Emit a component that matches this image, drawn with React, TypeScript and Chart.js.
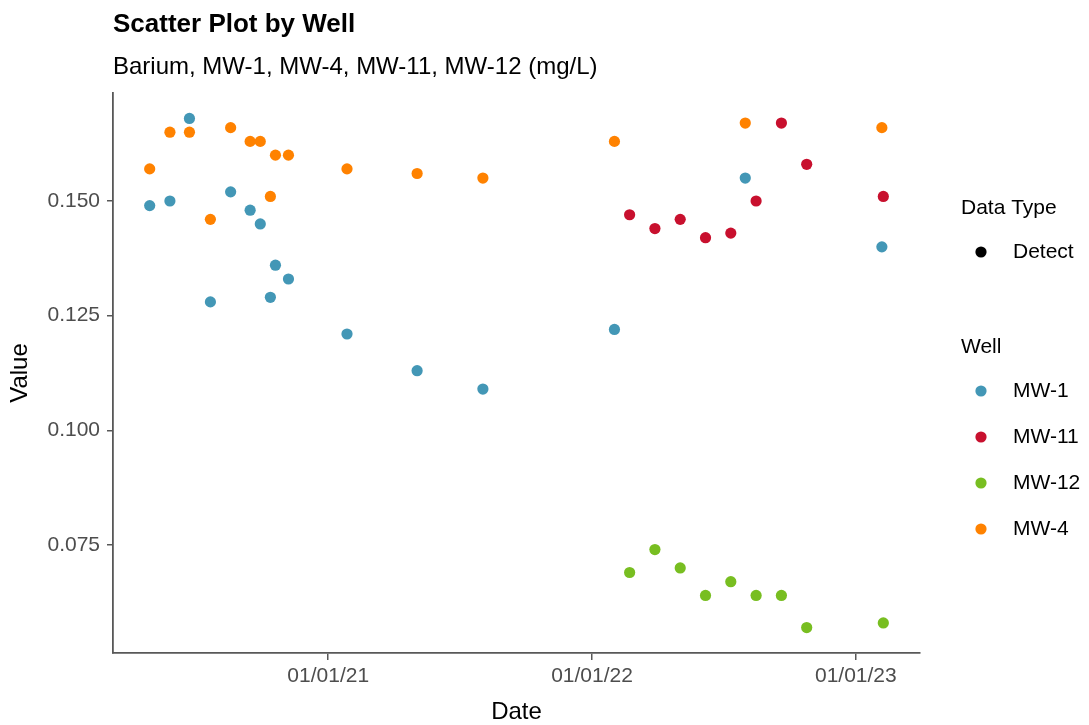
import React, { useEffect, useRef } from "react";
import { Chart, registerables } from "chart.js";

Chart.register(...registerables);

// ---- Data ----
const wellNames = ["MW-1", "MW-11", "MW-12", "MW-4"];
const wellColors = ["#4397b6", "#c8102e", "#78be21", "#ff8200"];

const mw1Dates = [
  "2020-04-29", "2020-05-27", "2020-06-23", "2020-07-22", "2020-08-19", "2020-09-15",
  "2020-09-29", "2020-10-13", "2020-10-20", "2020-11-07", "2021-01-27", "2021-05-04",
  "2021-08-03", "2022-02-01", "2022-08-01", "2023-02-06",
];
const mw1Values = [
  0.149, 0.150, 0.168, 0.128, 0.152, 0.148, 0.145, 0.129, 0.136, 0.133, 0.121, 0.113,
  0.109, 0.122, 0.155, 0.140,
];
const mw4Dates = mw1Dates;
const mw4Values = [
  0.157, 0.165, 0.165, 0.146, 0.166, 0.163, 0.163, 0.151, 0.160, 0.160, 0.157, 0.156,
  0.155, 0.163, 0.167, 0.166,
];
const mw11Dates = [
  "2022-02-22", "2022-03-29", "2022-05-03", "2022-06-07", "2022-07-12", "2022-08-16",
  "2022-09-20", "2022-10-25", "2023-02-08",
];
const mw11Values = [0.147, 0.144, 0.146, 0.142, 0.143, 0.150, 0.167, 0.158, 0.151];
const mw12Dates = mw11Dates;
const mw12Values = [0.069, 0.074, 0.070, 0.064, 0.067, 0.064, 0.064, 0.057, 0.058];

const xTickDates = ["2021-01-01", "2022-01-01", "2023-01-01"];
const yTickValues = [0.075, 0.1, 0.125, 0.15];

const titleText = "Scatter Plot by Well";
const subtitleText = "Barium, MW-1, MW-4, MW-11, MW-12 (mg/L)";
const dataTypeTitle = "Data Type";
const dataTypeLabels = ["Detect"];
const wellLegendTitle = "Well";

// ---- Helpers ----
const FONT = '"Liberation Sans", Arial, sans-serif';
const AXIS_COLOR = "#585858";
const toMs = (d: string) => {
  const [y, m, dd] = d.split("-").map(Number);
  return Date.UTC(y, m - 1, dd);
};
const fmtDate = (v: number) => {
  const d = new Date(v);
  const mm = String(d.getUTCMonth() + 1).padStart(2, "0");
  const dd = String(d.getUTCDate()).padStart(2, "0");
  const yy = String(d.getUTCFullYear() % 100).padStart(2, "0");
  return `${mm}/${dd}/${yy}`;
};
const pts = (dates: string[], vals: number[]) => dates.map((d, i) => ({ x: toMs(d), y: vals[i] }));

const seriesByWell: Record<string, { x: number; y: number }[]> = {
  "MW-1": pts(mw1Dates, mw1Values),
  "MW-11": pts(mw11Dates, mw11Values),
  "MW-12": pts(mw12Dates, mw12Values),
  "MW-4": pts(mw4Dates, mw4Values),
};

const allPts = Object.values(seriesByWell).flat();
const xs = allPts.map((p) => p.x);
const ys = allPts.map((p) => p.y);
const xLo = Math.min(...xs), xHi = Math.max(...xs);
const yLo = Math.min(...ys), yHi = Math.max(...ys);
const xMin = xLo - 0.05 * (xHi - xLo), xMax = xHi + 0.05 * (xHi - xLo);
const yMin = yLo - 0.05 * (yHi - yLo), yMax = yHi + 0.05 * (yHi - yLo);

const POINT_R = 5.6;

const overlayPlugin = {
  id: "overlay",
  afterDraw(chart: any) {
    const ctx = chart.ctx;
    ctx.save();
    ctx.fillStyle = "#000";
    ctx.textAlign = "left";
    ctx.textBaseline = "alphabetic";
    ctx.font = `bold 26px ${FONT}`;
    ctx.fillText(titleText, 113, 32);
    ctx.font = `24px ${FONT}`;
    ctx.fillText(subtitleText, 113, 74);

    // Legend: Data Type
    ctx.font = `21px ${FONT}`;
    ctx.fillText(dataTypeTitle, 961, 214);
    ctx.textBaseline = "middle";
    dataTypeLabels.forEach((lab, i) => {
      const cy = 252 + i * 46;
      ctx.fillStyle = "#000";
      ctx.beginPath();
      ctx.arc(981, cy, POINT_R, 0, Math.PI * 2);
      ctx.fill();
      ctx.fillText(lab, 1013, cy);
    });
    // Legend: Well
    ctx.textBaseline = "alphabetic";
    ctx.fillStyle = "#000";
    ctx.fillText(wellLegendTitle, 961, 353);
    ctx.textBaseline = "middle";
    chart.data.datasets.forEach((ds: any, i: number) => {
      const cy = 391 + i * 46;
      ctx.fillStyle = ds.backgroundColor;
      ctx.beginPath();
      ctx.arc(981, cy, POINT_R, 0, Math.PI * 2);
      ctx.fill();
      ctx.fillStyle = "#000";
      ctx.fillText(ds.label, 1013, cy);
    });
    ctx.restore();
  },
};

export default function App() {
  const ref = useRef<HTMLCanvasElement | null>(null);
  useEffect(() => {
    if (!ref.current) return;
    const chart = new Chart(ref.current, {
      type: "scatter",
      data: {
        datasets: wellNames.map((w, i) => ({
          label: w,
          data: seriesByWell[w],
          backgroundColor: wellColors[i],
          borderWidth: 0,
          pointRadius: POINT_R,
          pointHoverRadius: POINT_R,
        })),
      },
      options: {
        responsive: false,
        devicePixelRatio: 1,
        animation: false,
        events: [],
        layout: { padding: { left: 0, top: 93, right: 169, bottom: 0 } },
        plugins: { legend: { display: false }, tooltip: { enabled: false }, title: { display: false } },
        scales: {
          x: {
            type: "linear",
            min: xMin,
            max: xMax,
            afterBuildTicks: (s: any) => {
              s.ticks = xTickDates.map((d) => ({ value: toMs(d) }));
            },
            afterFit: (s: any) => {
              s.height = 72;
            },
            ticks: {
              callback: (v: any) => fmtDate(Number(v)),
              font: { family: FONT, size: 21 },
              color: "#4d4d4d",
              padding: 4,
              maxRotation: 0,
              autoSkip: false,
            },
            grid: { display: true, drawOnChartArea: false, drawTicks: true, tickLength: 7, color: AXIS_COLOR, lineWidth: 1.5 },
            border: { display: true, color: AXIS_COLOR, width: 1.8 },
            title: { display: true, text: "Date", font: { family: FONT, size: 24 }, color: "#000", padding: { top: 0, bottom: -2 } },
          },
          y: {
            type: "linear",
            min: yMin,
            max: yMax,
            afterBuildTicks: (s: any) => {
              s.ticks = yTickValues.map((v) => ({ value: v }));
            },
            afterFit: (s: any) => {
              s.width = 113;
            },
            ticks: {
              callback: (v: any) => Number(v).toFixed(3),
              font: { family: FONT, size: 21 },
              color: "#4d4d4d",
              padding: 7,
              autoSkip: false,
            },
            grid: { display: true, drawOnChartArea: false, drawTicks: true, tickLength: 6, color: AXIS_COLOR, lineWidth: 1.5 },
            border: { display: true, color: AXIS_COLOR, width: 1.8 },
            title: { display: true, text: "Value", font: { family: FONT, size: 24 }, color: "#000", padding: { top: 6, bottom: 0 } },
          },
        },
      },
      plugins: [overlayPlugin],
    } as any);
    return () => chart.destroy();
  }, []);
  return (
    <div style={{ position: "fixed", left: 0, top: 0, width: 1089, height: 725, background: "#fff" }}>
      <canvas ref={ref} width={1089} height={725} style={{ display: "block" }} />
    </div>
  );
}
